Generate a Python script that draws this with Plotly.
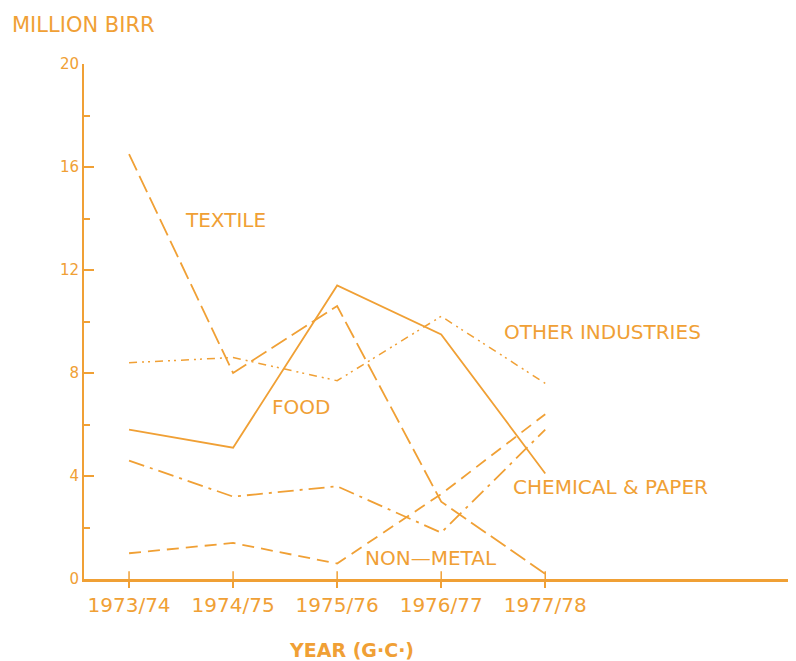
import plotly.graph_objects as go

years = ["1973/74", "1974/75", "1975/76", "1976/77", "1977/78"]
textile = [16.5, 8.0, 10.6, 3.0, 0.2]
food = [5.8, 5.1, 11.4, 9.5, 4.1]
other_industries = [8.4, 8.6, 7.7, 10.2, 7.6]
chemical_paper = [4.6, 3.2, 3.6, 1.8, 5.8]
non_metal = [1.0, 1.4, 0.6, 3.3, 6.4]

series = [
    ("TEXTILE", textile, "18px,6px", 1.8, (0.93, 13.96)),
    ("FOOD", food, "solid", 1.8, (1.65, 6.67)),
    ("OTHER INDUSTRIES", other_industries, "8px,5px,2px,4px,2px,5px", 1.5, (4.55, 9.6)),
    ("CHEMICAL & PAPER", chemical_paper, "16px,6px,3px,6px", 1.8, (4.63, 3.57)),
    ("NON-METAL", non_metal, "12px,7px", 1.8, (2.9, 0.82)),
]

C = "#F0A035"
FONT = "DejaVu Sans"
xi = list(range(len(years)))

fig = go.Figure()
for name, vals, dash, w, _ in series:
    fig.add_trace(go.Scatter(x=xi, y=vals, mode="lines", name=name,
                             line=dict(color=C, width=w, dash=dash),
                             showlegend=False, hoverinfo="skip"))

for name, _, _, _, (lx, ly) in series:
    label = name.replace("-", "\u2014") if name == "NON-METAL" else name
    fig.add_annotation(x=lx, y=ly, text=label, showarrow=False,
                       font=dict(family=FONT, size=20, color=C))

# upward part of x ticks (ticks cross the axis)
for i in xi:
    fig.add_shape(type="line", xref="x", yref="y", x0=i, x1=i, y0=0, y1=0.3,
                  line=dict(color=C, width=1.5))

fig.add_annotation(xref="paper", yref="paper", x=-0.104, y=1.076, xanchor="left",
                   yanchor="middle", text="MILLION BIRR", showarrow=False,
                   font=dict(family=FONT, size=21, color=C))
fig.add_annotation(xref="paper", yref="paper", x=0.376, y=-0.138, xanchor="center",
                   yanchor="middle", text="<b>YEAR (G·C·)</b>", showarrow=False,
                   font=dict(family=FONT, size=19, color=C))

fig.update_layout(
    width=788, height=653,
    margin=dict(l=76, r=0, t=56, b=82),
    paper_bgcolor="white", plot_bgcolor="white",
    xaxis=dict(range=[-0.433, 6.41], tickvals=xi, ticktext=years,
               showgrid=False, zeroline=False, showline=True, linecolor=C, linewidth=3,
               ticks="outside", ticklen=6, tickcolor=C, tickwidth=1.5,
               tickfont=dict(family=FONT, size=20, color=C)),
    yaxis=dict(range=[0, 20], tickvals=[0, 4, 8, 12, 16, 20],
               showgrid=False, zeroline=False, showline=True, linecolor=C, linewidth=2,
               ticks="inside", ticklen=10, tickcolor=C, tickwidth=1.5,
               tickfont=dict(family=FONT, size=15, color=C),
               minor=dict(tickvals=[2, 6, 10, 14, 18], ticks="inside", ticklen=6,
                          tickcolor=C, tickwidth=1.5)),
)

fig.write_html("out.html")
